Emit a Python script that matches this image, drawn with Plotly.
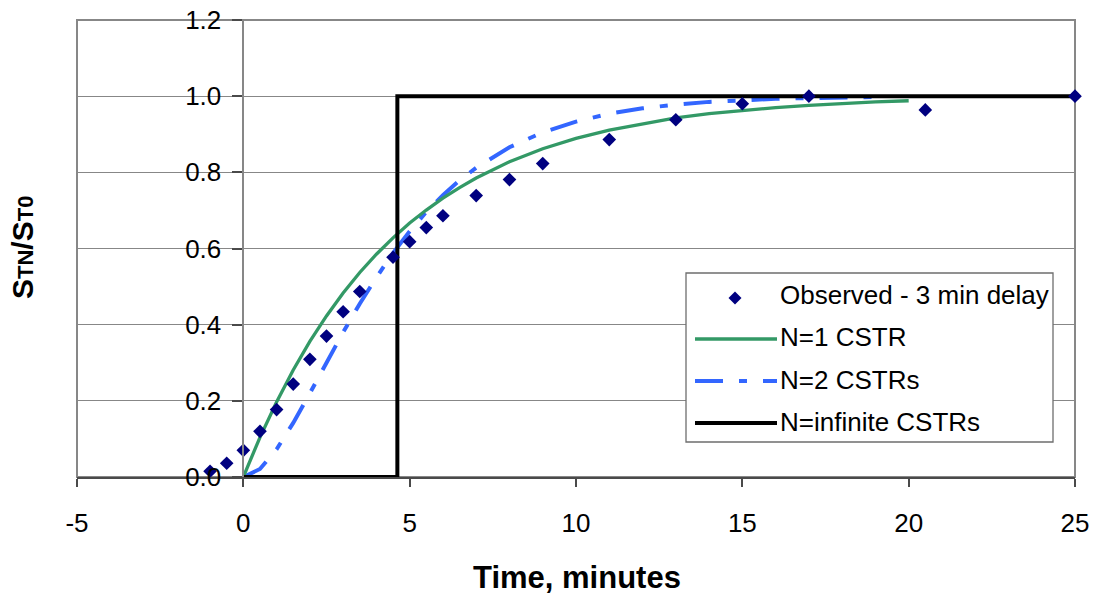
import plotly.graph_objects as go

# Observed tracer response (3 min delay removed)
obs_time = [-1, -0.5, 0, 0.5, 1, 1.5, 2, 2.5, 3, 3.5, 4.5, 5, 5.5, 6, 7, 8, 9, 11, 13, 15, 17, 20.5, 25]
obs_ratio = [0.015, 0.036, 0.07, 0.12, 0.177, 0.244, 0.309, 0.37, 0.434, 0.487, 0.577, 0.618, 0.655,
             0.686, 0.739, 0.781, 0.823, 0.886, 0.938, 0.98, 1.0, 0.964, 1.0]

# Model curves
model_time = [0, 0.5, 1, 1.5, 2, 2.5, 3, 3.5, 4, 4.5, 5, 5.5, 6, 6.5, 7, 8, 9, 10, 11, 12, 13,
              14, 15, 16, 17, 18, 19, 20]
cstr1_ratio = [0, 0.104, 0.197, 0.281, 0.356, 0.423, 0.483, 0.537, 0.585, 0.628, 0.667, 0.701, 0.732,
               0.760, 0.785, 0.828, 0.862, 0.889, 0.911, 0.928, 0.943, 0.954, 0.963, 0.970, 0.976,
               0.981, 0.985, 0.988]
cstr2_time = model_time[:-1]
cstr2_ratio = [0, 0.021, 0.073, 0.142, 0.220, 0.301, 0.380, 0.455, 0.524, 0.588, 0.645, 0.696, 0.740,
               0.779, 0.812, 0.866, 0.905, 0.933, 0.954, 0.968, 0.978, 0.985, 0.990, 0.993, 0.995,
               0.997, 0.998]
plug_time = [0, 4.63, 4.63, 25]
plug_ratio = [0, 0, 1, 1]

x_ticks = [-5, 0, 5, 10, 15, 20, 25]
y_ticks = [0.0, 0.2, 0.4, 0.6, 0.8, 1.0, 1.2]

legend_labels = ["Observed - 3 min delay", "N=1 CSTR", "N=2 CSTRs", "N=infinite CSTRs"]

NAVY = "#000080"
GREEN = "#339966"
BLUE = "#3366FF"
BLACK = "#000000"
GRID = "#878787"
FONT = "Liberation Sans, Arial, sans-serif"
DASHDOT = "28px,16px,8px,16px"

W, H = 1096, 594
ML, MR, MT, MB = 77, 21, 20, 117
PW, PH = W - ML - MR, H - MT - MB


def px(xp):
    return (xp - ML) / PW


def py(yp):
    return (H - MB - yp) / PH


fig = go.Figure()
fig.add_trace(go.Scatter(x=cstr2_time, y=cstr2_ratio, mode="lines",
                         line=dict(color=BLUE, width=4, dash=DASHDOT), name=legend_labels[2]))
fig.add_trace(go.Scatter(x=model_time, y=cstr1_ratio, mode="lines",
                         line=dict(color=GREEN, width=3.3), name=legend_labels[1]))
fig.add_trace(go.Scatter(x=plug_time, y=plug_ratio, mode="lines",
                         line=dict(color=BLACK, width=4), name=legend_labels[3], cliponaxis=False))
fig.add_trace(go.Scatter(x=obs_time, y=obs_ratio, mode="markers",
                         marker=dict(symbol="diamond", size=10.5, color=NAVY, line=dict(width=0)),
                         name=legend_labels[0], cliponaxis=False))

shapes = [
    # plot-area frame
    dict(type="rect", xref="paper", yref="paper", x0=0, x1=1, y0=0, y1=1,
         line=dict(color=GRID, width=2), layer="below"),
    # legend box
    dict(type="rect", xref="paper", yref="paper", x0=px(686), x1=px(1053), y0=py(442), y1=py(273),
         line=dict(color="#6e6e6e", width=1.3), fillcolor="white", layer="above"),
    # legend diamond
    dict(type="path", xref="paper", yref="paper", xsizemode="pixel", ysizemode="pixel",
         xanchor=px(735), yanchor=py(298), path="M-6.5,0L0,6.5L6.5,0L0,-6.5Z",
         fillcolor=NAVY, line=dict(width=0), layer="above"),
]
for yy, col, wd, ds in [(339, GREEN, 3.3, "solid"), (381, BLUE, 4, DASHDOT), (423, BLACK, 4, "solid")]:
    shapes.append(dict(type="line", xref="paper", yref="paper", x0=px(695), x1=px(777),
                       y0=py(yy), y1=py(yy), line=dict(color=col, width=wd, dash=ds), layer="above"))

annotations = []
for lab, yy in zip(legend_labels, [295, 337, 380, 422]):
    annotations.append(dict(text=lab, xref="paper", yref="paper", x=px(778), y=py(yy),
                            xanchor="left", yanchor="middle", showarrow=False,
                            font=dict(family=FONT, size=26, color="black")))
annotations.append(dict(text="<b>Time, minutes</b>", xref="paper", yref="paper", x=px(577), y=py(577),
                        xanchor="center", yanchor="middle", showarrow=False,
                        font=dict(family=FONT, size=31, color="black")))
annotations.append(dict(
    text="<b>S<span style='font-size:22px'>TN</span>/S<span style='font-size:22px'>T0</span></b>",
    xref="paper", yref="paper", x=px(22), y=py(248), textangle=-90,
    xanchor="center", yanchor="middle", showarrow=False,
    font=dict(family=FONT, size=30, color="black")))

fig.update_layout(
    width=W, height=H,
    margin=dict(l=ML, r=MR, t=MT, b=MB, pad=0, autoexpand=False),
    paper_bgcolor="white", plot_bgcolor="white",
    showlegend=False,
    shapes=shapes, annotations=annotations,
    xaxis=dict(range=[-5, 25], tickvals=x_ticks, ticktext=[str(v) for v in x_ticks],
               automargin=False,
               showgrid=False, zeroline=False,
               showline=True, linecolor="#4a4a4a", linewidth=1.6,
               ticks="outside", ticklen=8, tickwidth=1.6, tickcolor="#4a4a4a",
               ticklabelstandoff=14,
               tickfont=dict(family=FONT, size=26, color="black")),
    yaxis=dict(range=[0, 1.2], tickvals=y_ticks, ticktext=[f"{v:.1f}" for v in y_ticks],
               anchor="free", position=5 / 30, automargin=False,
               showgrid=True, gridcolor=GRID, gridwidth=1.4, zeroline=False,
               showline=True, linecolor=GRID, linewidth=1.7,
               ticks="outside", ticklen=10, tickwidth=1.6, tickcolor="#4a4a4a",
               ticklabelstandoff=6,
               tickfont=dict(family=FONT, size=26, color="black")),
)

fig.write_html("out.html")
